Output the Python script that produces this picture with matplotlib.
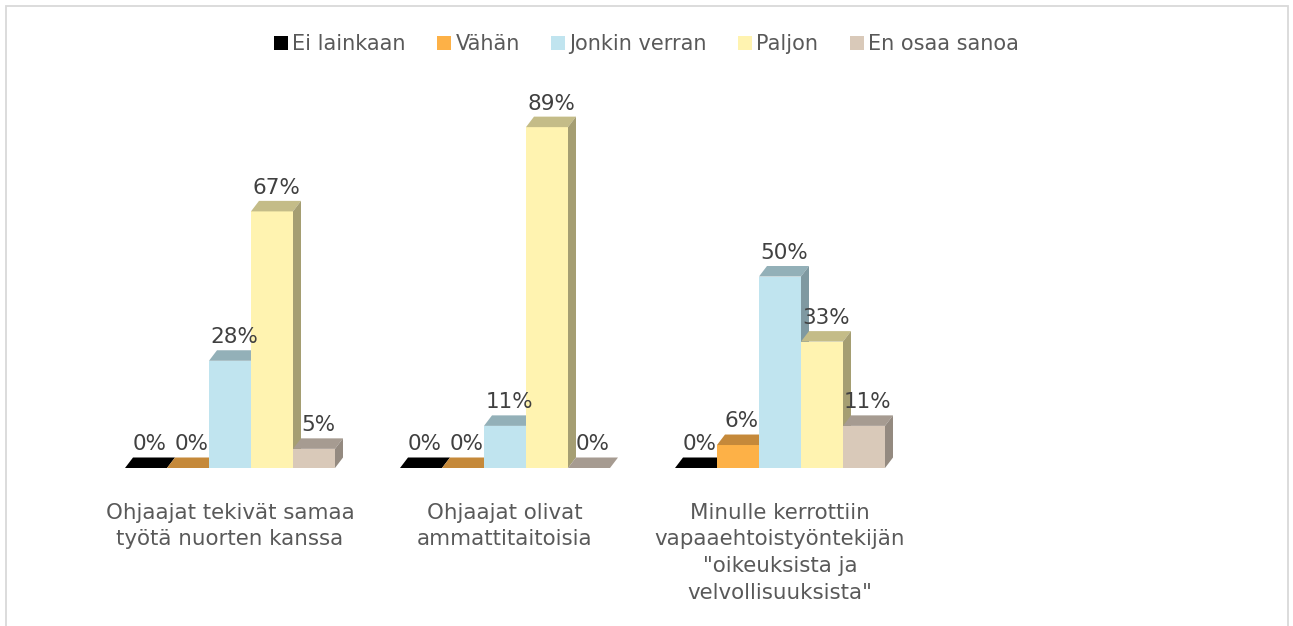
import matplotlib
matplotlib.use("Agg")
import matplotlib.pyplot as plt
from matplotlib.patches import Polygon, Rectangle, Patch

categories = [
    "Ohjaajat tekivät samaa\ntyötä nuorten kanssa",
    "Ohjaajat olivat\nammattitaitoisia",
    "Minulle kerrottiin\nvapaaehtoistyöntekijän\n\"oikeuksista ja\nvelvollisuuksista\"",
]
series_names = ["Ei lainkaan", "Vähän", "Jonkin verran", "Paljon", "En osaa sanoa"]
ei_lainkaan = [0, 0, 0]
vahan = [0, 0, 6]
jonkin_verran = [28, 11, 50]
paljon = [67, 89, 33]
en_osaa_sanoa = [5, 0, 11]
series_values = [ei_lainkaan, vahan, jonkin_verran, paljon, en_osaa_sanoa]

front_colors = ["#000000", "#FDB147", "#C0E4EF", "#FFF3B0", "#D9C9B9"]
top_colors = ["#000000", "#C5893A", "#93B0B8", "#C4BC88", "#A69B91"]
side_colors = ["#000000", "#A67535", "#7F99A1", "#A59E72", "#948A80"]

W, H = 1293, 626
fig = plt.figure(figsize=(W / 100, H / 100), dpi=100)
fig.patch.set_facecolor("white")

# chart border
fig.patches.append(Rectangle((6 / W, -0.05), (1288 - 6) / W, 1.05 - 6 / H,
                             transform=fig.transFigure, fill=False,
                             edgecolor="#D9D9D9", linewidth=1.3, zorder=0))

ax_left, ax_w = 92.5, 1100
ax_bottom, ax_h = 158, 383
ax = fig.add_axes([ax_left / W, ax_bottom / H, ax_w / W, ax_h / H])
ax.set_xlim(-0.5, 3.5)
ax.set_ylim(0, 100)
for s in ax.spines.values():
    s.set_visible(False)
ax.set_yticks([])

bw = 42 / 275
dx = 8 / 275
dy = 10.5 / 3.83

for g in range(len(categories)):
    for i, vals in enumerate(series_values):
        v = vals[g]
        x0 = g - 2.5 * bw + i * bw
        z = 2 + g * 0.1 + i * 0.01
        ax.bar(x0, v, width=bw, align="edge", color=front_colors[i],
               edgecolor="none", zorder=z)
        top = Polygon([(x0, v), (x0 + bw, v), (x0 + bw + dx, v + dy), (x0 + dx, v + dy)],
                      closed=True, facecolor=top_colors[i], edgecolor="none", zorder=z)
        ax.add_patch(top)
        if v > 0:
            side = Polygon([(x0 + bw, 0), (x0 + bw, v), (x0 + bw + dx, v + dy), (x0 + bw + dx, dy)],
                           closed=True, facecolor=side_colors[i], edgecolor="none", zorder=z)
            ax.add_patch(side)
        ax.text(x0 + bw / 2 + dx / 2, v + dy + 0.8, f"{v}%", ha="center", va="bottom",
                fontsize=15.5, color="#404040", zorder=10)

ax.set_xticks(range(len(categories)))
ax.set_xticklabels(categories, fontsize=15.4, color="#595959", linespacing=1.42)
ax.tick_params(axis="x", length=0, pad=25)

handles = [Patch(facecolor=c, edgecolor="none") for c in front_colors]
leg = fig.legend(handles, series_names, loc="center", bbox_to_anchor=(0.5, 1 - 44 / H),
                 ncol=5, frameon=False, fontsize=15, handlelength=0.68, handleheight=0.68,
                 handletextpad=0.2, columnspacing=1.5)
for t in leg.get_texts():
    t.set_color("#595959")

fig.savefig("out.png", dpi=100)
